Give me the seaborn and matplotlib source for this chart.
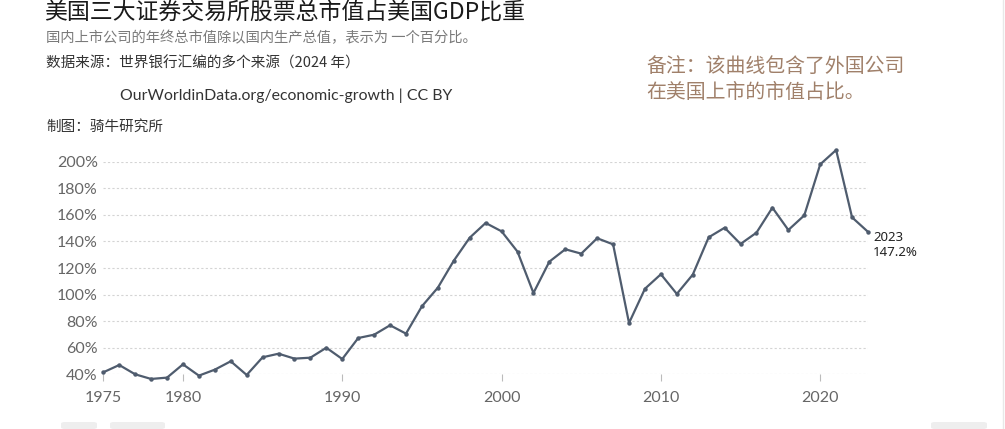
import pandas as pd
import matplotlib.pyplot as plt
import seaborn as sns
from matplotlib.patches import FancyBboxPatch
from matplotlib.lines import Line2D

# 美国三大交易所股票总市值 / GDP (%)
years = list(range(1975, 2024))
market_cap_pct = [
    41.5, 47.0, 40.0, 36.5, 37.5, 47.5, 39.0, 43.5, 49.8, 39.5,
    52.8, 55.5, 51.8, 52.5, 60.0, 51.5, 67.3, 69.8, 76.9, 70.6,
    91.2, 105.2, 125.5, 142.8, 153.9, 147.6, 132.3, 101.2, 124.8, 134.1,
    130.8, 142.4, 137.8, 78.6, 104.4, 115.3, 100.5, 115.0, 143.1, 150.3,
    138.1, 146.6, 165.4, 148.6, 159.6, 198.0, 208.8, 158.1, 147.2,
]
y_ticks = [40, 60, 80, 100, 120, 140, 160, 180, 200]
x_ticks = [1975, 1980, 1990, 2000, 2010, 2020]

df = pd.DataFrame({'年份': years, '占比': market_cap_pct})

sns.set_style('white')
plt.rcParams['font.family'] = ['Lato', 'Noto Sans CJK SC', 'DejaVu Sans']

W, H = 1005, 429
fig = plt.figure(figsize=(W / 100, H / 100), dpi=100)
ax = fig.add_axes([103.3 / W, (H - 374.3) / H, (868 - 103.3) / W, 212.6 / H])

line_color = '#4f5c6e'
sns.lineplot(data=df, x='年份', y='占比', ax=ax, color=line_color, linewidth=1.6,
             marker='o', markersize=3.2, markeredgewidth=0, clip_on=False, zorder=3)

ax.set_xlim(1975, 2023)
ax.set_ylim(40, 200)
ax.set_yticks(y_ticks)
ax.set_yticklabels([f'{v}%' for v in y_ticks])
ax.set_xticks(x_ticks)
ax.set_xlabel('')
ax.set_ylabel('')
for s in ax.spines.values():
    s.set_visible(False)
ax.grid(True, axis='y', color='#d4d4d4', linewidth=0.8, linestyle=(0, (2, 2)))
ax.grid(False, axis='x')
ax.tick_params(axis='y', length=0, pad=4, labelsize=11.5, labelcolor='#666666')
ax.tick_params(axis='x', length=5, width=0.8, color='#bbbbbb', pad=7,
               labelsize=11.5, labelcolor='#666666', direction='out', bottom=True)

# 末端标注
ax.annotate('2023', xy=(2023, market_cap_pct[-1]), xytext=(5, -6),
            textcoords='offset pixels', ha='left', va='center',
            fontsize=9.5, color='#222222', family=['Noto Sans', 'DejaVu Sans'])
ax.annotate(f'{market_cap_pct[-1]}%', xy=(2023, market_cap_pct[-1]), xytext=(5, -21),
            textcoords='offset pixels', ha='left', va='center',
            fontsize=9.5, color='#222222', family=['Noto Sans', 'DejaVu Sans'])

cjk = ['Noto Sans CJK SC', 'DejaVu Sans']


def px_text(x, y, s, va='center', **kw):
    fig.text(x / W, 1 - y / H, s, va=va, **kw)


px_text(44, 0.5, '美国三大证券交易所股票总市值占美国GDP比重', va='top', fontsize=16.5,
        color='#1a1a1a', family=cjk, fontweight='light')
px_text(46, 38, '国内上市公司的年终总市值除以国内生产总值，表示为 一个百分比。',
        fontsize=10.3, color='#7a7a7a', family=cjk)
px_text(46, 63, '数据来源：世界银行汇编的多个来源（2024 年）', fontsize=10.5,
        color='#333333', family=cjk)
px_text(120, 96, 'OurWorldinData.org/economic-growth | CC BY', fontsize=11.4,
        color='#333333', family=['Lato', 'DejaVu Sans'])
px_text(46, 127, '制图：骑牛研究所', fontsize=10.5, color='#333333', family=cjk)
px_text(646, 67, '备注：该曲线包含了外国公司', fontsize=14.3, color='#a0806a', family=cjk)
px_text(646, 93, '在美国上市的市值占比。', fontsize=14.3, color='#a0806a', family=cjk)

# 底部按钮残影
for x0, x1 in [(61, 97), (110, 165), (931, 987)]:
    fig.patches.append(FancyBboxPatch((x0 / W, 0), (x1 - x0) / W, 7 / H,
                                      boxstyle='round,pad=0,rounding_size=0.004',
                                      transform=fig.transFigure, facecolor='#eeeeee',
                                      edgecolor='none'))
fig.lines.append(Line2D([1003 / W, 1003 / W], [0, 1], transform=fig.transFigure,
                        color='#e8e8e8', linewidth=1))

plt.savefig('out.png', dpi=100)
